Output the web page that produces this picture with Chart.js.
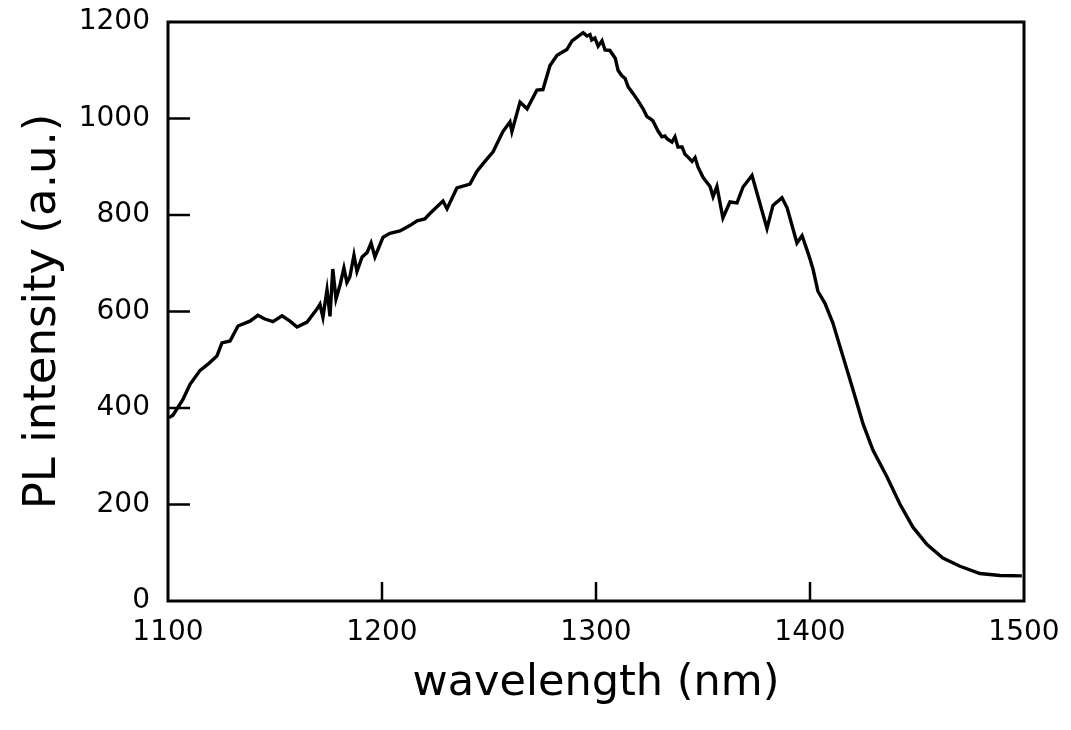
<!DOCTYPE html>
<html>
<head>
<meta charset="utf-8">
<script src="https://cdn.jsdelivr.net/npm/chart.js@4/dist/chart.umd.min.js"></script>
<style>
  html, body { margin: 0; padding: 0; background: #fff; }
  #wrap { width: 1071px; height: 730px; }
</style>
</head>
<body>
<div id="wrap"><canvas id="chart" width="1071" height="730"></canvas></div>
<script>
// PL spectrum
const wavelength = [
  1100.5, 1102.3, 1107, 1110.3, 1115, 1119, 1122.9, 1125.2, 1129, 1132.7,
  1138.3, 1142, 1145, 1149, 1153.3, 1157, 1160.3, 1165, 1169.6, 1171,
  1172.4, 1174.3, 1175.7, 1177, 1178.5, 1180.4, 1182.2, 1183.6, 1185, 1186.9,
  1188.3, 1190.7, 1193, 1194.9, 1196.7, 1200.5, 1203.7, 1208.4, 1213, 1216.4,
  1220, 1222.4, 1228.5, 1230.4, 1235, 1241.1, 1244.4, 1248.1, 1251.9, 1256.5,
  1259.8, 1260.7, 1264.5, 1267.8, 1272.4, 1275.2, 1278.5, 1281.8, 1286.4, 1288.8,
  1294, 1295.8, 1297.2, 1298, 1299.5, 1301, 1302.8, 1304.2, 1306.5, 1309,
  1310.3, 1312, 1313.6, 1315, 1317.3, 1319.6, 1322, 1323.8, 1325.2, 1326.6,
  1329, 1330.8, 1332.2, 1333.2, 1335.5, 1336.9, 1338.3, 1340.2, 1341.6, 1343,
  1344.9, 1346.3, 1347.7, 1350, 1353.3, 1354.7, 1356.5, 1359.3, 1362.6, 1365.9,
  1368.7, 1372.9, 1379.9, 1382.7, 1386.9, 1389.3, 1393.9, 1396.3, 1399.1, 1401.4,
  1403.7, 1407, 1410.7, 1415.4, 1420.1, 1424.8, 1429.4, 1436, 1442, 1448.1,
  1454.7, 1462.1, 1470.1, 1479.4, 1488.8, 1499
]
const intensity = [
  380, 385, 418, 449, 478, 492, 508, 535, 539, 570,
  580, 592, 585, 579, 591, 580, 568, 578, 605, 615,
  588, 645, 590, 688, 626, 655, 690, 660, 672, 717,
  683, 713, 722, 742, 713, 754, 762, 767, 778, 788,
  792, 803, 829, 813, 856, 864, 891, 911, 931, 973,
  993, 973, 1034, 1020, 1059, 1060, 1110, 1131, 1143, 1161,
  1178, 1171, 1174, 1163, 1167, 1150, 1161, 1142, 1141, 1125,
  1100, 1089, 1083, 1066, 1052, 1037, 1020, 1004, 1000, 995,
  974, 962, 964, 958, 951, 962, 941, 941, 926, 920,
  911, 919, 899, 878, 859, 838, 859, 794, 827, 825,
  858, 882, 772, 820, 836, 815, 742, 757, 721, 688,
  642, 617, 576, 507, 438, 367, 313, 257, 201, 153,
  117, 89, 72, 57, 53, 52
]
const xTicks = [1100, 1200, 1300, 1400, 1500]
const yTicks = [0, 200, 400, 600, 800, 1000, 1200]

const points = wavelength.map((w, i) => ({ x: w, y: intensity[i] }))

// frame + inward ticks, like the old plotting software did
const framePlugin = {
  id: 'frame',
  afterDraw(chart) {
    const { ctx, chartArea: a, scales } = chart
    ctx.save()
    ctx.strokeStyle = '#000'
    ctx.lineWidth = 3
    ctx.strokeRect(a.left, a.top, a.right - a.left, a.bottom - a.top)
    ctx.lineWidth = 2.5
    ctx.beginPath()
    yTicks.slice(1, -1).forEach(v => {
      const y = scales.y.getPixelForValue(v)
      ctx.moveTo(a.left, y)
      ctx.lineTo(a.left + 22, y)
    })
    xTicks.slice(1, -1).forEach(v => {
      const x = scales.x.getPixelForValue(v)
      ctx.moveTo(x, a.bottom)
      ctx.lineTo(x, a.bottom - 19)
    })
    ctx.stroke()
    ctx.restore()
  }
}

const font = "'DejaVu Sans', 'Liberation Sans', sans-serif"

new Chart(document.getElementById('chart'), {
  type: 'line',
  data: {
    datasets: [{
      data: points,
      borderColor: '#000',
      borderWidth: 3.4,
      pointRadius: 0,
      tension: 0,
      fill: false
    }]
  },
  options: {
    responsive: false,
    animation: false,
    layout: { padding: { left: 0, right: 47, top: 22, bottom: 0 } },
    plugins: { legend: { display: false }, tooltip: { enabled: false } },
    scales: {
      x: {
        type: 'linear',
        min: 1100,
        max: 1500,
        afterBuildTicks: s => { s.ticks = xTicks.map(v => ({ value: v })) },
        afterFit: s => { s.height = 129; s.paddingLeft = 0; s.paddingRight = 0 },
        grid: { display: false, drawTicks: false },
        border: { display: false },
        ticks: {
          color: '#000', padding: 15, maxRotation: 0,
          font: { family: font, size: 28 },
          callback: v => String(v)
        },
        title: {
          display: true,
          text: 'wavelength (nm)',
          color: '#000',
          padding: { bottom: 20 },
          font: { family: font, size: 43 }
        }
      },
      y: {
        min: 0,
        max: 1200,
        afterBuildTicks: s => { s.ticks = yTicks.map(v => ({ value: v })) },
        afterFit: s => { s.width = 168; s.paddingTop = 0; s.paddingBottom = 0 },
        grid: { display: false, drawTicks: false },
        border: { display: false },
        ticks: {
          color: '#000', padding: 18,
          font: { family: font, size: 28 },
          callback: v => String(v)
        },
        title: {
          display: true,
          text: 'PL intensity (a.u.)',
          color: '#000',
          padding: { top: 16 },
          font: { family: font, size: 45 }
        }
      }
    }
  },
  plugins: [framePlugin]
})
</script>
</body>
</html>
